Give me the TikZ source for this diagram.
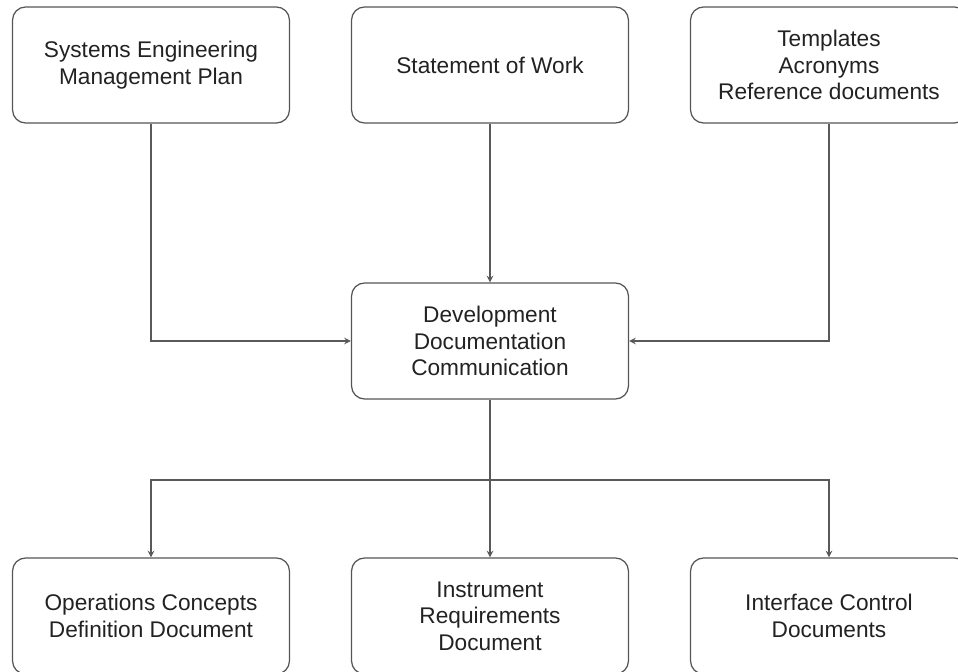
\documentclass[tikz,border=0pt]{standalone}
\usepackage{fontspec}
\setmainfont{Liberation Sans}
\usetikzlibrary{arrows,positioning}
\definecolor{boxline}{HTML}{555555}
\definecolor{wireline}{HTML}{595959}
\definecolor{inktext}{HTML}{222222}
\tikzset{docstyle/.style = {rectangle, rounded corners = 0.26cm, draw = boxline, line width = 0.7pt,
		minimum width = 5.54cm, minimum height = 2.32cm, align = center, text = inktext,
		font = \fontsize{12.9}{15.1}\selectfont},
	pre/.style = {<-, >=stealth, draw = wireline, line width = 0.7pt},
	post/.style = {->, >=stealth, draw = wireline, line width = 0.7pt}}

\begin{document}
\begin{tikzpicture}[x = 0.02cm, y = -0.02cm]

 \useasboundingbox (0,0) rectangle (958,672);

 \node (semp) at (151,65) [docstyle] {Systems Engineering\\Management Plan};
 \node (sow) at (490,65) [docstyle] {Statement of Work};
 \node (refs) at (829,65) [docstyle] {Templates\\Acronyms\\Reference documents};

 \node (hub) at (490,341) [docstyle] {Development\\Documentation\\Communication}
  edge [pre] (sow);

 \node (ocdd) at (151,616) [docstyle] {Operations Concepts\\Definition Document};
 \node (ird) at (490,616) [docstyle] {Instrument\\Requirements\\Document};
 \node (icd) at (829,616) [docstyle] {Interface Control\\Documents};

 \coordinate (fork) at (490,480);

 \draw [post] (semp.south) |- (hub.west);
 \draw [post] (refs.south) |- (hub.east);

 \draw [wireline, line width = 0.7pt] (hub.south) -- (fork);
 \draw [post] (fork) -| (ocdd.north);
 \draw [post] (fork) -- (ird.north);
 \draw [post] (fork) -| (icd.north);

\end{tikzpicture}
\end{document}
